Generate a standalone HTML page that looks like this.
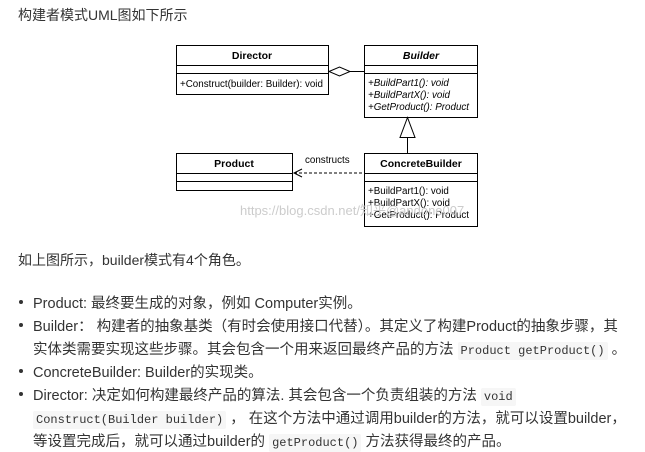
<!DOCTYPE html>
<html><head><meta charset="utf-8"><style>
body{margin:0;width:645px;height:452px;background:#fff;font-family:"Liberation Sans","Noto Sans CJK SC",sans-serif;color:#333;position:relative;overflow:hidden}
.t{position:absolute;white-space:nowrap}
.b{position:absolute;white-space:nowrap;font-size:14.5px;left:33px}
.d{position:absolute;left:19px;width:4px;height:4px;border-radius:50%;background:#333}
code{font-family:"Liberation Mono",monospace;font-size:12px;background:#f6f6f6;padding:2px 3px;border-radius:2px}
</style></head><body>
<div class="t" style="left:18px;top:5px;font-size:14px">构建者模式UML图如下所示</div>
<svg style="position:absolute;left:0;top:0" width="645" height="240" font-family="Liberation Sans, sans-serif" font-size="9.8">
<g fill="#fff" stroke="#000" stroke-width="1">
<rect x="176.5" y="45.5" width="152" height="49"/><line x1="176" y1="65.5" x2="329" y2="65.5"/><line x1="176" y1="73.5" x2="329" y2="73.5"/>
<rect x="364.5" y="45.5" width="113" height="72"/><line x1="364" y1="65.5" x2="478" y2="65.5"/><line x1="364" y1="73.5" x2="478" y2="73.5"/>
<rect x="364.5" y="153.5" width="113" height="73"/><line x1="364" y1="173.5" x2="478" y2="173.5"/><line x1="364" y1="181.5" x2="478" y2="181.5"/>
<rect x="176.5" y="153.5" width="116" height="37"/><line x1="176" y1="173.5" x2="293" y2="173.5"/><line x1="176" y1="181.5" x2="293" y2="181.5"/>
<line x1="350" y1="71.5" x2="364" y2="71.5"/>
<polygon points="329,71.5 339.5,67 350,71.5 339.5,76"/>
<line x1="407.5" y1="137" x2="407.5" y2="153"/>
<polygon points="407.5,117.5 400,137.5 415,137.5"/>
<line x1="294" y1="173" x2="364" y2="173" stroke-dasharray="3,2"/>
<polyline points="302,169 294,173 302,177" fill="none"/>
</g>
<g fill="#000">
<text x="252" y="59" text-anchor="middle" font-weight="bold" font-size="10.5">Director</text>
<text x="180" y="87">+Construct(builder: Builder): void</text>
<text x="421" y="59" text-anchor="middle" font-weight="bold" font-style="italic" font-size="10.5">Builder</text>
<text x="368" y="86" font-style="italic">+BuildPart1(): void</text>
<text x="368" y="98" font-style="italic">+BuildPartX(): void</text>
<text x="368" y="110" font-style="italic">+GetProduct(): Product</text>
<text x="234" y="167" text-anchor="middle" font-weight="bold" font-size="10.5">Product</text>
<text x="305" y="163">constructs</text>
<text x="421" y="167" text-anchor="middle" font-weight="bold" font-size="10.5">ConcreteBuilder</text>
<text x="368" y="194">+BuildPart1(): void</text>
<text x="368" y="206">+BuildPartX(): void</text>
<text x="368" y="218">+GetProduct(): Product</text>
</g>
<text x="240" y="215" fill="#ccc" font-size="13" font-family="Liberation Sans, sans-serif">https://blog.csdn.net/知乎@andone007</text>
</svg>
<div class="t" style="left:18px;top:250px;font-size:14px">如上图所示，builder模式有4个角色。</div>
<div class="d" style="top:300px"></div><div class="b" style="top:292px">Product: 最终要生成的对象，例如 Computer实例。</div>
<div class="d" style="top:323px"></div><div class="b" style="top:315px">Builder： 构建者的抽象基类（有时会使用接口代替）。其定义了构建Product的抽象步骤，其</div>
<div class="b" style="top:338px">实体类需要实现这些步骤。其会包含一个用来返回最终产品的方法 <code>Product getProduct()</code> 。</div>
<div class="d" style="top:369px"></div><div class="b" style="top:361px">ConcreteBuilder: Builder的实现类。</div>
<div class="d" style="top:392px"></div><div class="b" style="top:384px">Director: 决定如何构建最终产品的算法. 其会包含一个负责组装的方法 <code>void</code></div>
<div class="b" style="top:407px"><code>Construct(Builder builder)</code> ， 在这个方法中通过调用builder的方法，就可以设置builder，</div>
<div class="b" style="top:430px">等设置完成后，就可以通过builder的 <code>getProduct()</code> 方法获得最终的产品。</div>
</body></html>
